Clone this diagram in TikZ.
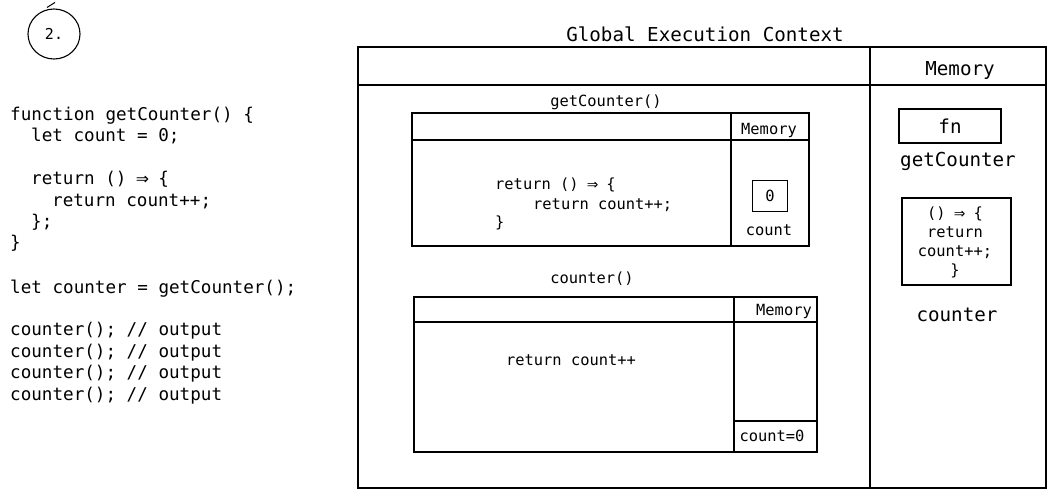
\documentclass[tikz,border=0pt]{standalone}
\usepackage{fontspec}
\usetikzlibrary{shapes.geometric}
\setmonofont{DejaVu Sans Mono}
\newfontfamily\arrowfont{DejaVu Sans}
\newcommand{\darr}{\makebox[0.602em]{\arrowfont\scalebox{0.9}{⇒}}}
\begin{document}
\begin{tikzpicture}[x=1pt,y=-1pt,
  box/.style={draw, line width=1.2pt},
  ln/.style={line width=1.2pt},
  codetxt/.style={font=\ttfamily\fontsize{17.6}{21}\selectfont, anchor=base west, inner sep=0pt},
  bigtxt/.style={font=\ttfamily\fontsize{19.2}{22}\selectfont, inner sep=0pt},
  smalltxt/.style={font=\ttfamily\fontsize{15.4}{19}\selectfont, inner sep=0pt}]
\useasboundingbox (0,0) rectangle (1057,498);
% badge
\node[draw, ellipse, line width=1.1pt, minimum width=52pt, minimum height=50pt, inner sep=0pt,
  font=\ttfamily\fontsize{15}{16}\selectfont] (badge) at (54,34) {2.};
\draw[line width=1pt] ([xshift=-7pt,yshift=1pt]badge.north) -- ++(8,-5);
% code on the left
\node[codetxt] (c1) at (10,120) {function getCounter() \{};
\node[codetxt] (c2) at (31,141) {let count = 0;};
\node[codetxt] (c3) at (31,184) {return () \darr{} \{};
\node[codetxt] (c4) at (52,206) {return count++;};
\node[codetxt] (c5) at (31,227) {\};};
\node[codetxt] (c6) at (10,248) {\}};
\node[codetxt] (c7) at (10,293) {let counter = getCounter();};
\node[codetxt] (c8) at (10,335) {counter(); // output};
\node[codetxt] (c9) at (10,357) {counter(); // output};
\node[codetxt] (c10) at (10,378) {counter(); // output};
\node[codetxt] (c11) at (10,400) {counter(); // output};
% global execution context
\node[bigtxt] (gtitle) at (705,34) {Global Execution Context};
\draw[box] (358,47) rectangle (1046,488);
\draw[ln] (358,85) -- (1046,85);
\draw[ln] (870,47) -- (870,488);
\node[bigtxt] (gmem) at (960,70) {Memory};
% getCounter() context
\node[smalltxt] (gclabel) at (606,102) {getCounter()};
\draw[box] (412,113) rectangle (809,246);
\draw[ln] (412,140) -- (809,140);
\draw[ln] (731,113) -- (731,246);
\node[smalltxt] (gcmem) at (769,130) {Memory};
\node[smalltxt, anchor=base west] (gr1) at (495,189) {return () \darr{} \{};
\node[smalltxt, anchor=base west] (gr2) at (533,209) {return count++;};
\node[smalltxt, anchor=base west] (gr3) at (495,227) {\}};
\node[box, smalltxt, minimum width=35pt, minimum height=31pt] (zero) at (770,196) {0};
\node[smalltxt] (countlbl) at (769,230) {count};
% counter() context
\node[smalltxt] (ctlabel) at (592,279) {counter()};
\draw[box] (414,297) rectangle (817,452);
\draw[ln] (414,322) -- (817,322);
\draw[ln] (734,297) -- (734,452);
\draw[ln] (734,421) -- (817,421);
\node[smalltxt] (ctmem) at (784,311) {Memory};
\node[smalltxt] (ctret) at (571,360) {return count++};
\node[smalltxt] (ctcount) at (772,436) {count=0};
% global memory
\node[box, bigtxt, minimum width=102pt, minimum height=34pt] (fn) at (950,126) {fn};
\node[bigtxt] (gcname) at (958,161) {getCounter};
\node[box, minimum width=109pt, minimum height=87pt] (ctbox) at (956.5,241.5) {};
\node[smalltxt, align=center, font=\ttfamily\fontsize{15.4}{19}\selectfont] (cttext) at (955,242) {() \darr{} \{\\return\\count++;\\\}};
\node[bigtxt] (ctname) at (957,315) {counter};
\end{tikzpicture}
\end{document}
